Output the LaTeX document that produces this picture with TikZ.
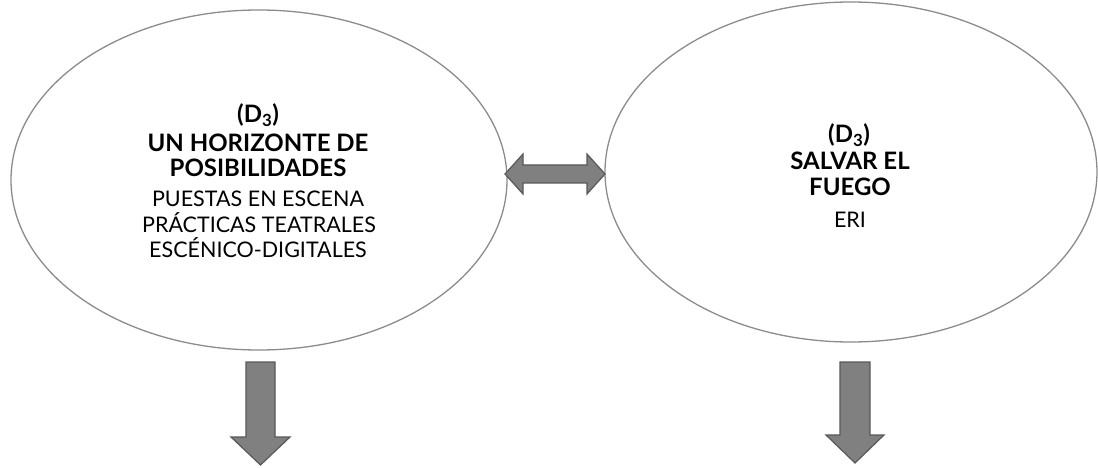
\documentclass[tikz,border=0pt]{standalone}
\usepackage{fontspec}
\setmainfont{Lato}
\begin{document}
\begin{tikzpicture}[x=1pt,y=-1pt,
  arrowshape/.style={fill=black!50, draw=black!65, line width=1.2pt, line join=miter},
  bl/.style={anchor=base, font=\fontsize{24}{26}\selectfont\bfseries, inner sep=0pt},
  rl/.style={anchor=base, font=\fontsize{21.5}{24}\selectfont, inner sep=0pt}]
\useasboundingbox (0,0) rectangle (1098,468);
\fill[white] (0,0) rectangle (1098,468);
% ellipses
\draw[draw=black!45, line width=1.3pt] (259,180) ellipse [x radius=248, y radius=170];
\draw[draw=black!45, line width=1.3pt] (851,172) ellipse [x radius=246, y radius=170];
\coordinate (L) at (259,180);
\coordinate (R) at (851,172);
% left text
\node[bl] (l1) at (258,123) {(D\textsubscript{3})};
\node[bl] (l2) at (258,152) {UN HORIZONTE DE};
\node[bl] (l3) at (258,177) {POSIBILIDADES};
\node[rl] (l4) at (258,206) {PUESTAS EN ESCENA};
\node[rl] (l5) at (259,232) {PRÁCTICAS TEATRALES};
\node[rl] (l6) at (258,257) {ESCÉNICO-DIGITALES};
% right text
\node[bl] (r1) at (849,143) {(D\textsubscript{3})};
\node[bl] (r2) at (850,169) {SALVAR EL};
\node[bl] (r3) at (850,196) {FUEGO};
\node[rl] (r4) at (850,227) {ERI};
% double arrow
\draw[arrowshape] (505,174) -- (523,154) -- (523,165) -- (587,165) -- (587,154) -- (605,174)
  -- (587,194) -- (587,183) -- (523,183) -- (523,194) -- cycle;
% down arrows
\draw[arrowshape] (246,362) -- (275,362) -- (275,437) -- (290,437) -- (260.5,465) -- (231,437) -- (246,437) -- cycle;
\draw[arrowshape] (840,362) -- (870,362) -- (870,435) -- (884,435) -- (855,463) -- (826,435) -- (840,435) -- cycle;
\end{tikzpicture}
\end{document}
